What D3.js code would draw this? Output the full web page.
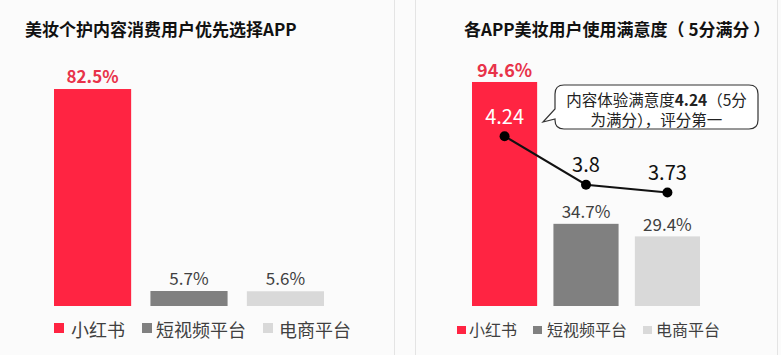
<!DOCTYPE html>
<html><head><meta charset="utf-8">
<script src="https://cdn.jsdelivr.net/npm/d3@7"></script>
<style>body{margin:0;background:#fbfbfb;} text{font-family:"Noto Sans CJK SC","Noto Sans",sans-serif;}</style>
</head><body><svg id="c" width="781" height="355"></svg>
<script>
const categories = ["小红书", "短视频平台", "电商平台"];
const preferValues = [82.5, 5.7, 5.6];
const usageValues = [94.6, 34.7, 29.4];
const satisfaction = [4.24, 3.8, 3.73];
const leftTitle = "美妆个护内容消费用户优先选择APP";
const rightTitle = "各APP美妆用户使用满意度（ 5分满分 ）";
const calloutParts = [["内容体验满意度", "4.24", "（5分"], ["为满分），评分第一"]];
const colors = ["#ff2442", "#808080", "#d9d9d9"];
const labelColors = ["#e8334a", "#404040", "#404040"];

const svg = d3.select("#c");
svg.append("rect").attr("width",781).attr("height",355).attr("fill","#fbfbfb");
// panel separators
[394.5, 415.5, 777.5].forEach(x => svg.append("line").attr("x1",x).attr("x2",x).attr("y1",0).attr("y2",355).attr("stroke","#e4e4e4").attr("stroke-width",1));

// ---------- Left chart ----------
svg.append("text").attr("x",25).attr("y",28).attr("dominant-baseline","central")
  .attr("font-size",17).attr("font-weight","bold").attr("fill","#111").text(leftTitle);

const xL = d3.scaleBand().domain(categories).range([54,324]).paddingInner(0.2).paddingOuter(0);
const yL = d3.scaleLinear().domain([0,100]).range([306,43]);
const gL = svg.append("g");
gL.selectAll("rect.bar").data(preferValues).join("rect").attr("class","bar")
  .attr("x",(d,i)=>xL(categories[i])).attr("width",xL.bandwidth())
  .attr("y",d=>yL(d)).attr("height",d=>yL(0)-yL(d)).attr("fill",(d,i)=>colors[i]);
gL.selectAll("text.val").data(preferValues).join("text").attr("class","val")
  .attr("x",(d,i)=>xL(categories[i])+xL.bandwidth()/2).attr("y",d=>yL(d)-14)
  .attr("text-anchor","middle").attr("dominant-baseline","central")
  .attr("font-size",17).attr("font-weight",(d,i)=>i===0?"bold":"normal")
  .attr("fill",(d,i)=>labelColors[i]).text(d=>d.toFixed(1)+"%");

// left legend
const legL = [{sx:54, tx:71},{sx:142, tx:156},{sx:263, tx:279}];
categories.forEach((c,i)=>{
  svg.append("rect").attr("x",legL[i].sx).attr("y",323).attr("width",10).attr("height",10).attr("fill",colors[i]);
  svg.append("text").attr("x",legL[i].tx).attr("y",329).attr("dominant-baseline","central")
    .attr("font-size",18).attr("fill","#404040").text(c);
});

// ---------- Right chart ----------
svg.append("text").attr("x",464).attr("y",28).attr("dominant-baseline","central")
  .attr("font-size",17).attr("font-weight","bold").attr("fill","#111").text(rightTitle);

const xR = d3.scaleBand().domain(categories).range([472,700]).paddingInner(0.2).paddingOuter(0);
const yR = d3.scaleLinear().domain([0,100]).range([306,69.2]);
const yS = d3.scaleLinear().domain([3,4.5]).range([273,107.5]);
const gR = svg.append("g");
gR.selectAll("rect.bar").data(usageValues).join("rect").attr("class","bar")
  .attr("x",(d,i)=>xR(categories[i])).attr("width",xR.bandwidth())
  .attr("y",d=>yR(d)).attr("height",d=>yR(0)-yR(d)).attr("fill",(d,i)=>colors[i]);
gR.selectAll("text.val").data(usageValues).join("text").attr("class","val")
  .attr("x",(d,i)=>xR(categories[i])+xR.bandwidth()/2).attr("y",d=>yR(d)-13)
  .attr("text-anchor","middle").attr("dominant-baseline","central")
  .attr("font-size",(d,i)=>i===0?18:17).attr("font-weight",(d,i)=>i===0?"bold":"normal")
  .attr("fill",(d,i)=>labelColors[i]).text(d=>d.toFixed(1)+"%");

// line
const cx = i => xR(categories[i])+xR.bandwidth()/2;
const line = d3.line().x((d,i)=>cx(i)).y(d=>yS(d));
gR.append("path").datum(satisfaction).attr("d",line).attr("fill","none").attr("stroke","#111").attr("stroke-width",2);
gR.selectAll("circle").data(satisfaction).join("circle")
  .attr("cx",(d,i)=>cx(i)).attr("cy",d=>yS(d)).attr("r",5).attr("fill","#000");
gR.selectAll("text.sat").data(satisfaction).join("text").attr("class","sat")
  .attr("x",(d,i)=>cx(i)).attr("y",d=>yS(d)-21)
  .attr("text-anchor","middle").attr("dominant-baseline","central")
  .attr("font-size",20).attr("fill",(d,i)=>i===0?"#fff":"#111").text(d=>String(d));

// callout
const bx=555, by=85, bw=203, bh=44, r=9;
const cpath = `M${bx+r},${by} H${bx+bw-r} Q${bx+bw},${by} ${bx+bw},${by+r} V${by+bh-r} Q${bx+bw},${by+bh} ${bx+bw-r},${by+bh} H${bx+r} Q${bx},${by+bh} ${bx},${by+bh-r} V${by+34} L543,122 L${bx},${by+24} V${by+r} Q${bx},${by} ${bx+r},${by} Z`;
svg.append("path").attr("d",cpath).attr("fill","#fff").attr("stroke","#333").attr("stroke-width",1.2);
calloutParts.forEach((parts,i)=>{
  const t = svg.append("text").attr("x",bx+bw/2).attr("y",by+14+i*20).attr("text-anchor","middle")
    .attr("dominant-baseline","central").attr("font-size",15.5).attr("fill","#222");
  parts.forEach((p,j)=>t.append("tspan").attr("font-weight",(i===0&&j===1)?"bold":"normal").text(p));
});

// right legend
const legR = [{sx:457, tx:469},{sx:533, tx:547},{sx:643, tx:656}];
categories.forEach((c,i)=>{
  svg.append("rect").attr("x",legR[i].sx).attr("y",326).attr("width",9).attr("height",8).attr("fill",colors[i]);
  svg.append("text").attr("x",legR[i].tx).attr("y",329).attr("dominant-baseline","central")
    .attr("font-size",16).attr("fill","#404040").text(c);
});
</script></body></html>
